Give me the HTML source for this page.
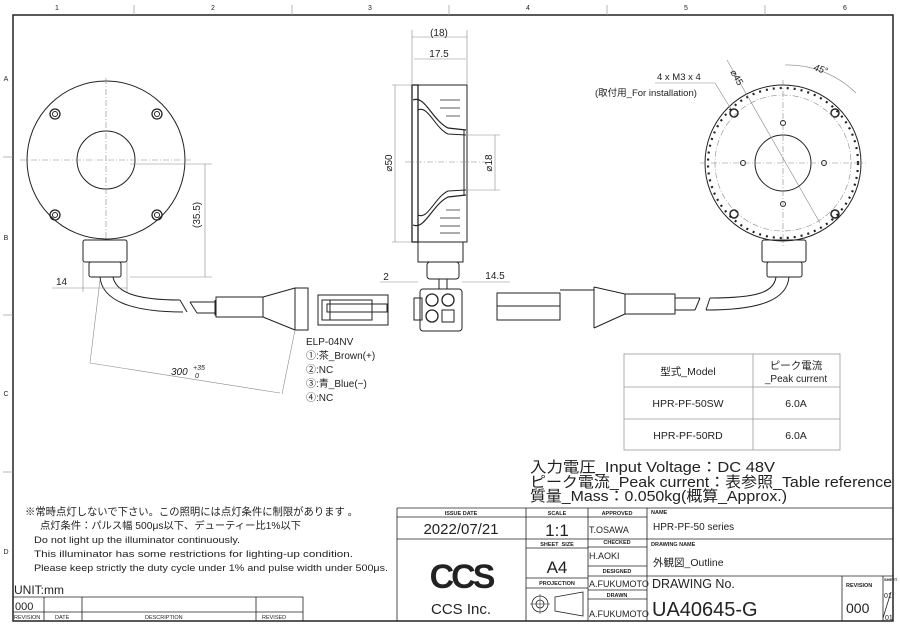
<!DOCTYPE html>
<html><head><meta charset="utf-8"><style>
html,body{margin:0;padding:0;background:#fff;}
svg{display:block;font-family:"Liberation Sans","Noto Sans CJK JP",sans-serif;}
</style></head><body>
<svg width="900" height="624" viewBox="0 0 900 624" xmlns="http://www.w3.org/2000/svg">
<rect width="900" height="624" fill="#fff"/>
<g stroke="#222" fill="none">
<path d="M13,15 H893 V621 H13 Z" stroke-width="1.5"/>
</g>
<g stroke="#999" stroke-width="0.7">
<line x1="134" y1="5" x2="134" y2="15"/><line x1="292" y1="5" x2="292" y2="15"/><line x1="449" y1="5" x2="449" y2="15"/><line x1="607" y1="5" x2="607" y2="15"/><line x1="765" y1="5" x2="765" y2="15"/>
<line x1="3" y1="157" x2="13" y2="157"/><line x1="3" y1="315" x2="13" y2="315"/><line x1="3" y1="472" x2="13" y2="472"/>
</g>
<g font-size="7" fill="#222" text-anchor="middle">
<text x="57" y="10">1</text><text x="213" y="10">2</text><text x="370" y="10">3</text><text x="528" y="10">4</text><text x="686" y="10">5</text><text x="845" y="10">6</text>
<text x="6" y="81">A</text><text x="6" y="240">B</text><text x="6" y="396">C</text><text x="6" y="554">D</text>
</g>

<!-- LEFT VIEW -->
<g stroke="#222" fill="none" stroke-width="1">
<circle cx="106" cy="160" r="79"/>
<circle cx="106" cy="160" r="29"/>
<g stroke-width="1.3"><circle cx="55" cy="114" r="5"/><circle cx="157" cy="114" r="5"/><circle cx="55" cy="215" r="5"/><circle cx="157" cy="215" r="5"/></g>
<g><circle cx="55" cy="114" r="2.5"/><circle cx="157" cy="114" r="2.5"/><circle cx="55" cy="215" r="2.5"/><circle cx="157" cy="215" r="2.5"/></g>
<rect x="83" y="240" width="44" height="22" rx="2"/>
<rect x="89" y="262" width="32" height="15" rx="2"/>
<path d="M100,277 C102,300 130,312 183,312"/>
<path d="M113,277 C116,292 135,300 180,300"/>
<path d="M180,300 L187,312"/>
<path d="M190,302 L197,313"/>
<path d="M190,302 H215 M197,313 H215 M215,300 V315 H216"/>
<rect x="216" y="297" width="47" height="20"/>
<path d="M263,297 L295,288 M263,317 L295,330"/>
<rect x="295" y="288" width="13" height="42"/>
<rect x="318" y="295" width="70" height="30"/>
<rect x="322" y="300" width="50" height="20"/>
<rect x="327" y="304" width="60" height="8"/>
<line x1="330" y1="300" x2="330" y2="320"/>
</g>
<g stroke="#888" stroke-width="0.6" stroke-dasharray="6,2,1,2" fill="none">
<line x1="20" y1="160" x2="192" y2="160"/><line x1="106" y1="78" x2="106" y2="242"/>
</g>
<g stroke="#888" stroke-width="0.6" fill="none">
<line x1="130" y1="164" x2="212" y2="164"/><line x1="130" y1="277" x2="212" y2="277"/><line x1="205" y1="164" x2="205" y2="277"/>
<line x1="83" y1="262" x2="83" y2="292"/><line x1="127" y1="262" x2="127" y2="292"/><line x1="52" y1="288" x2="127" y2="288"/>
<line x1="100" y1="280" x2="90" y2="363"/><line x1="295" y1="330" x2="282" y2="394"/><line x1="90" y1="363" x2="280" y2="393"/>
</g>
<g font-size="10" fill="#222">
<text x="200" y="228" transform="rotate(-90 200 228)">(35.5)</text>
<text x="56" y="285">14</text>
<text x="171" y="375" font-style="italic">300</text><text x="193" y="370" font-size="7" font-style="italic">+35</text><text x="195" y="378" font-size="7" font-style="italic">0</text>
<text x="306" y="345">ELP-04NV</text>
<text x="306" y="359">①:茶_Brown(+)</text>
<text x="306" y="373">②:NC</text>
<text x="306" y="387">③:青_Blue(−)</text>
<text x="306" y="401">④:NC</text>
</g>

<!-- SIDE VIEW -->
<g stroke="#222" fill="none" stroke-width="1">
<rect x="412" y="85" width="55" height="157"/>
<rect x="412" y="85" width="6" height="157" stroke-width="1.3"/>
<path d="M413,100 C425,95 432,120 448,128 L466,130" stroke-width="1.2"/>
<path d="M418,110 C428,105 435,128 448,134 L466,135"/>
<path d="M413,225 C425,230 432,205 448,197 L466,195" stroke-width="1.2"/>
<path d="M418,215 C428,220 435,197 448,191 L466,190"/>
<line x1="464" y1="130" x2="464" y2="195"/>
<g stroke-width="0.7"><line x1="440" y1="100" x2="460" y2="100"/><line x1="440" y1="108" x2="460" y2="108"/><line x1="446" y1="116" x2="460" y2="116"/><line x1="440" y1="218" x2="460" y2="218"/><line x1="440" y1="226" x2="460" y2="226"/><line x1="446" y1="210" x2="460" y2="210"/><line x1="440" y1="233" x2="460" y2="233"/></g>
<rect x="418" y="242" width="45" height="20"/>
<rect x="427" y="262" width="32" height="17" rx="3"/>
<line x1="439" y1="279" x2="439" y2="289"/><line x1="447" y1="279" x2="447" y2="289"/>
<rect x="420" y="289" width="42" height="42" rx="3"/>
<rect x="414" y="298" width="8" height="22"/>
<g stroke-width="1.3"><circle cx="432" cy="300" r="6"/><circle cx="448" cy="300" r="6"/><circle cx="432" cy="316" r="6"/></g>
<rect x="442" y="310" width="12" height="12"/>
<rect x="497" y="293" width="63" height="27"/>
<line x1="497" y1="306" x2="560" y2="306"/>
</g>
<g stroke="#888" stroke-width="0.6" fill="none">
<line x1="412" y1="30" x2="412" y2="85"/><line x1="467" y1="30" x2="467" y2="85"/><line x1="412" y1="37" x2="467" y2="37"/><line x1="414" y1="59" x2="466" y2="59"/>
<line x1="392" y1="85" x2="412" y2="85"/><line x1="392" y1="242" x2="412" y2="242"/><line x1="395" y1="85" x2="395" y2="242"/>
<line x1="466" y1="135" x2="500" y2="135"/><line x1="466" y1="190" x2="500" y2="190"/><line x1="495" y1="135" x2="495" y2="190"/>
<line x1="380" y1="282" x2="418" y2="282"/><line x1="462" y1="282" x2="510" y2="282"/>
<line x1="405" y1="162" x2="485" y2="162" stroke-dasharray="6,2,1,2"/>
</g>
<g font-size="10" fill="#222" text-anchor="middle">
<text x="439" y="36">(18)</text><text x="439" y="57">17.5</text>
<text x="392" y="163" transform="rotate(-90 392 163)">⌀50</text>
<text x="492" y="163" transform="rotate(-90 492 163)">⌀18</text>
<text x="386" y="280">2</text><text x="495" y="279">14.5</text>
</g>

<!-- RIGHT VIEW -->
<g stroke="#222" fill="none" stroke-width="1">
<circle cx="783" cy="163" r="78"/>
<circle cx="783" cy="163" r="28"/>
<circle cx="783" cy="163" r="75" stroke-dasharray="2,5" stroke-width="2.2"/>
<g stroke-width="1.5"><circle cx="734" cy="113" r="4"/><circle cx="835" cy="113" r="4"/><circle cx="734" cy="214" r="4"/><circle cx="835" cy="214" r="4"/></g>
<circle cx="783" cy="123" r="2.5"/><circle cx="783" cy="204" r="2.5"/><circle cx="743" cy="163" r="2.5"/><circle cx="824" cy="163" r="2.5"/>
<rect x="762" y="240" width="44" height="22" rx="2"/>
<rect x="767" y="262" width="35" height="15" rx="2"/>
<path d="M789,277 C787,300 760,310 706,310"/>
<path d="M776,277 C774,292 758,298 710,298"/>
<path d="M706,310 L710,298"/><path d="M700,298 L695,310"/>
<path d="M700,298 H675 M695,310 H675"/>
<rect x="625" y="294" width="50" height="20"/>
<path d="M625,294 L594,287 M625,314 L594,328 M594,287 V328"/>
<path d="M594,290 H560"/>
</g>
<g stroke="#888" stroke-width="0.6" fill="none">
<circle cx="783" cy="163" r="68" stroke-dasharray="6,2,1,2"/>
<line x1="700" y1="163" x2="866" y2="163" stroke-dasharray="6,2,1,2"/><line x1="783" y1="80" x2="783" y2="246" stroke-dasharray="6,2,1,2"/>
<line x1="727" y1="60" x2="820" y2="223"/>
<line x1="655" y1="83" x2="715" y2="83"/><line x1="715" y1="83" x2="731" y2="109"/>
<path d="M785,65 A98,98 0 0 1 856,93"/>
</g>
<g font-size="9.5" fill="#222">
<text x="657" y="80">4 x M3 x 4</text>
<text x="595" y="96">(取付用_For installation)</text>
<text x="730" y="72" transform="rotate(60 730 72)">⌀45</text>
<text x="813" y="70" font-style="italic" transform="rotate(18 813 70)">45°</text>
</g>

<!-- MODEL TABLE -->
<g stroke="#999" stroke-width="0.8" fill="none">
<rect x="624" y="354" width="216" height="96"/>
<line x1="753" y1="354" x2="753" y2="450"/><line x1="624" y1="387" x2="840" y2="387"/><line x1="624" y1="419" x2="840" y2="419"/>
</g>
<g font-size="10.5" fill="#222" text-anchor="middle">
<text x="688" y="375">型式_Model</text>
<text x="796" y="369">ピーク電流</text><text x="796" y="382" font-size="10">_Peak current</text>
<text x="688" y="407">HPR-PF-50SW</text><text x="796" y="407">6.0A</text>
<text x="688" y="439">HPR-PF-50RD</text><text x="796" y="439">6.0A</text>
</g>
<g font-size="15" fill="#222">
<text x="530" y="472" textLength="245" lengthAdjust="spacingAndGlyphs">入力電圧_Input Voltage：DC 48V</text>
<text x="530" y="487" textLength="362" lengthAdjust="spacingAndGlyphs">ピーク電流_Peak current：表参照_Table reference</text>
<text x="530" y="501" textLength="257" lengthAdjust="spacingAndGlyphs">質量_Mass：0.050kg(概算_Approx.)</text>
</g>

<!-- NOTES -->
<g fill="#222">
<text x="25" y="515" font-size="10.5" textLength="333" lengthAdjust="spacingAndGlyphs">※常時点灯しないで下さい。この照明には点灯条件に制限があります 。</text>
<text x="40" y="529" font-size="10" textLength="261" lengthAdjust="spacingAndGlyphs">点灯条件：パルス幅 500μs以下、デューティー比1%以下</text>
<text x="34" y="543" font-size="9.5" textLength="206" lengthAdjust="spacingAndGlyphs">Do not light up the illuminator continuously.</text>
<text x="34" y="557" font-size="9.5" textLength="319" lengthAdjust="spacingAndGlyphs">This illuminator has some restrictions for lighting-up condition.</text>
<text x="34" y="571" font-size="9.5" textLength="354" lengthAdjust="spacingAndGlyphs">Please keep strictly the duty cycle under 1% and pulse width under 500μs.</text>
<text x="14" y="594" font-size="12">UNIT:mm</text>
</g>
<g stroke="#222" stroke-width="0.8" fill="none">
<path d="M13,597 H303 V621 M44,597 V621 M82,597 V621 M256,597 V621 M13,612 H303"/>
</g>
<g fill="#222">
<text x="15" y="610" font-size="11">000</text>
<g font-size="5.5"><text x="14" y="619">REVISION</text><text x="55" y="619">DATE</text><text x="145" y="619">DESCRIPTION</text><text x="262" y="619">REVISED</text></g>
</g>

<!-- TITLE BLOCK -->
<g stroke="#222" stroke-width="0.8" fill="none">
<path d="M397,508 H893 M397,508 V621 M526,508 V621 M588,508 V621 M647,508 V621"/>
<path d="M397,517 H647 M397,539 H893 M526,548 H588 M526,578 H588 M526,588 H588"/>
<path d="M588,547 H647 M588,566 H647 M588,576 H893 M588,590 H647 M588,599 H647"/>
<path d="M842,576 V621 M883,576 V621"/>
<line x1="883" y1="618" x2="891" y2="592"/>
<circle cx="540" cy="604" r="8"/><circle cx="540" cy="604" r="4"/>
<path d="M530,604 H550 M540,594 V614" stroke-width="0.5"/>
<path d="M555,597 L583,592 V616 L555,611 Z"/>
</g>
<g fill="#222" font-size="5.5" text-anchor="middle" font-weight="bold">
<text x="461" y="515">ISSUE DATE</text><text x="557" y="515">SCALE</text><text x="617" y="515">APPROVED</text>
<text x="557" y="546">SHEET&#160;&#160;SIZE</text><text x="617" y="544">CHECKED</text><text x="617" y="573">DESIGNED</text>
<text x="557" y="585">PROJECTION</text><text x="617" y="597">DRAWN</text>
</g>
<g fill="#222" font-size="5.5" font-weight="bold"><text x="651" y="514">NAME</text><text x="651" y="546">DRAWING NAME</text><text x="846" y="587">REVISION</text><text x="884" y="581" font-size="4">SHEET</text></g>
<g fill="#222">
<text x="461" y="534" font-size="15" text-anchor="middle">2022/07/21</text>
<text x="557" y="536" font-size="17" text-anchor="middle">1:1</text>
<text x="557" y="573" font-size="17" text-anchor="middle">A4</text>
<text x="589" y="533" font-size="9">T.OSAWA</text>
<text x="589" y="559" font-size="9">H.AOKI</text>
<text x="589" y="587" font-size="9">A.FUKUMOTO</text>
<text x="589" y="617" font-size="9">A.FUKUMOTO</text>
<text x="653" y="530" font-size="10">HPR-PF-50 series</text>
<text x="653" y="566" font-size="10.5">外観図_Outline</text>
<text x="652" y="588" font-size="12.5">DRAWING No.</text>
<text x="652" y="616" font-size="20">UA40645-G</text>
<text x="846" y="613" font-size="14">000</text>
<text x="884" y="598" font-size="7">01</text><text x="885" y="620" font-size="7">01</text>
<text x="461" y="614" font-size="15" text-anchor="middle">CCS Inc.</text>
<text x="461" y="588" font-size="34" font-weight="bold" text-anchor="middle" letter-spacing="-3">CCS</text>
</g>
</svg>
</body></html>
